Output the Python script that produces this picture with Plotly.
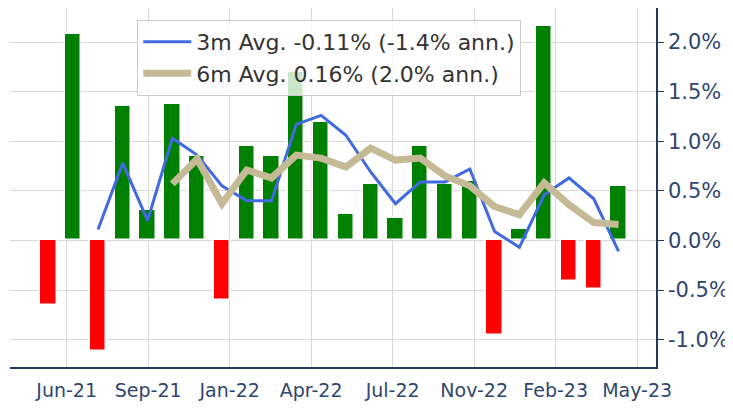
import numpy as np
import plotly.graph_objects as go

# ---- data ----
months = ["May-21", "Jun-21", "Jul-21", "Aug-21", "Sep-21", "Oct-21", "Nov-21", "Dec-21",
          "Jan-22", "Feb-22", "Mar-22", "Apr-22", "May-22", "Jun-22", "Jul-22", "Aug-22",
          "Sep-22", "Oct-22", "Nov-22", "Dec-22", "Jan-23", "Feb-23", "Mar-23", "Apr-23"]
monthly_change = [-0.65, 2.08, -1.11, 1.36, 0.31, 1.38, 0.85, -0.60, 0.95, 0.85, 1.70, 1.19,
                  0.27, 0.57, 0.23, 0.95, 0.57, 0.60, -0.95, 0.12, 2.16, -0.41, -0.49, 0.55]
avg_3m = [None, None, 0.11, 0.78, 0.20, 1.03, 0.86, 0.55, 0.40, 0.40, 1.17, 1.26,
          1.06, 0.69, 0.37, 0.59, 0.59, 0.72, 0.09, -0.07, 0.46, 0.63, 0.42, -0.11]
avg_6m = [None, None, None, None, None, 0.57, 0.82, 0.37, 0.71, 0.63, 0.86, 0.83,
          0.74, 0.93, 0.81, 0.83, 0.65, 0.55, 0.34, 0.26, 0.58, 0.36, 0.18, 0.16]
tick_labels = ["Jun-21", "Sep-21", "Jan-22", "Apr-22", "Jul-22", "Nov-22", "Feb-23", "May-23"]
y_ticks = [-1.0, -0.5, 0.0, 0.5, 1.0, 1.5, 2.0]
label_3m = "3m Avg. -0.11% (-1.4% ann.)"
label_6m = "6m Avg. 0.16% (2.0% ann.)"

x = np.arange(len(monthly_change))
bar_colors = ["#008000" if v >= 0 else "#ff0000" for v in monthly_change]

NAVY = "#23395d"
GRID = "#d8d8d8"
FONT = "DejaVu Sans"

fig = go.Figure()
fig.add_trace(go.Bar(
    x=x, y=monthly_change, width=0.66,
    marker=dict(color=bar_colors, line=dict(color="white", width=1.5)),
    showlegend=False, hovertext=months,
))
fig.add_trace(go.Scatter(
    x=x, y=avg_3m, mode="lines", name=label_3m,
    line=dict(color="#4169e1", width=3),
))
fig.add_trace(go.Scatter(
    x=x, y=avg_6m, mode="lines", name=label_6m,
    line=dict(color="#c4bb96", width=7),
))

# the page body adds an 8px offset, so margins compensate for it
fig.update_layout(
    width=733, height=408,
    margin=dict(l=2, r=85, t=0, b=49),
    paper_bgcolor="white", plot_bgcolor="white",
    font=dict(family=FONT, size=18, color=NAVY),
    bargap=0,
    legend=dict(
        x=0.197, y=0.967, xanchor="left", yanchor="top",
        bgcolor="rgba(255,255,255,0.8)", bordercolor="#cccccc", borderwidth=1,
        font=dict(family=FONT, size=22, color="#333333"),
        itemwidth=48,
    ),
    xaxis=dict(
        range=[-1.55, 24.51],
        tickmode="array",
        tickvals=np.linspace(0.735, 23.75, len(tick_labels)),
        ticktext=tick_labels,
        showgrid=True, gridcolor=GRID, gridwidth=1,
        showline=True, linecolor=NAVY, linewidth=1.5,
        ticks="", zeroline=False,
        ticklabelstandoff=5,
        tickfont=dict(family=FONT, size=19, color="#2f4670"),
    ),
    yaxis=dict(
        side="right",
        range=[-1.276, 2.343],
        tickmode="array",
        tickvals=y_ticks,
        ticktext=[f"{v:.1f}%" for v in y_ticks],
        showgrid=True, gridcolor=GRID, gridwidth=1,
        showline=True, linecolor=NAVY, linewidth=1.5,
        ticks="outside", ticklen=6, tickcolor=NAVY,
        zeroline=False,
        tickfont=dict(family=FONT, size=21, color="#2f4670"),
    ),
)

fig.write_html("out.html")
